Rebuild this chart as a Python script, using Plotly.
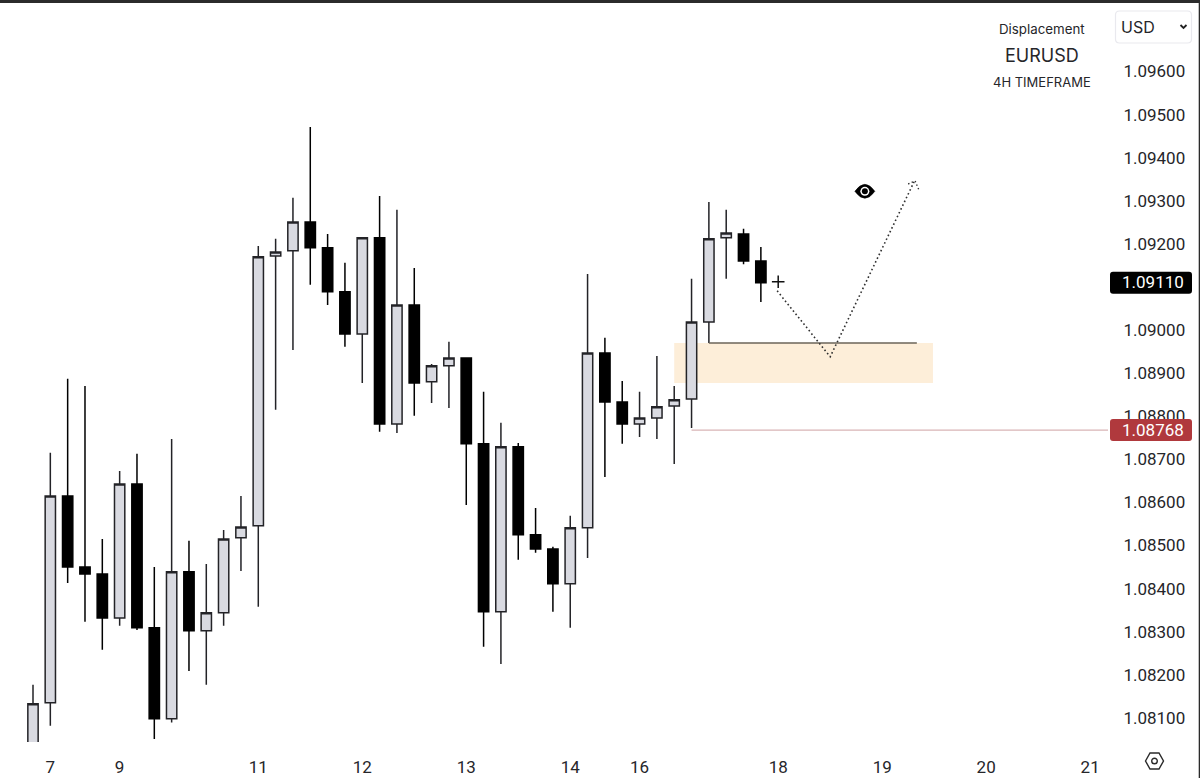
import plotly.graph_objects as go

# 4H EURUSD candles
opens = [1.07979, 1.08135, 1.08615, 1.08450, 1.08434, 1.08332, 1.08643, 1.08309, 1.08098, 1.08439,
         1.08302, 1.08344, 1.08518, 1.08546, 1.09172, 1.09184, 1.09251, 1.09191, 1.09089, 1.08991,
         1.09214, 1.08782, 1.09058, 1.08880, 1.08917, 1.08935, 1.08736, 1.08346, 1.08729, 1.08525,
         1.08492, 1.08411, 1.08541, 1.08947, 1.08833, 1.08782, 1.08796, 1.08824, 1.08840, 1.09019,
         1.09214, 1.09223, 1.09160]
highs = [1.08177, 1.08715, 1.08887, 1.08870, 1.08515, 1.08673, 1.08713, 1.08450, 1.08747, 1.08511,
         1.08457, 1.08536, 1.08615, 1.09195, 1.09212, 1.09307, 1.09471, 1.09223, 1.09156, 1.09216,
         1.09311, 1.09279, 1.09144, 1.08921, 1.08973, 1.08935, 1.08857, 1.08785, 1.08738, 1.08587,
         1.08497, 1.08569, 1.09130, 1.08982, 1.08882, 1.08857, 1.08940, 1.08870, 1.09119, 1.09297,
         1.09279, 1.09235, 1.09193]
lows = [1.07945, 1.08082, 1.08413, 1.08323, 1.08258, 1.08314, 1.08304, 1.08051, 1.08089, 1.08209,
        1.08177, 1.08314, 1.08441, 1.08358, 1.08815, 1.08954, 1.09105, 1.09058, 1.08961, 1.08877,
        1.08764, 1.08761, 1.08801, 1.08831, 1.08819, 1.08594, 1.08265, 1.08225, 1.08467, 1.08483,
        1.08346, 1.08309, 1.08471, 1.08659, 1.08736, 1.08752, 1.08747, 1.08689, 1.08773, 1.08970,
        1.09119, 1.09153, 1.09065]
closes = [1.08133, 1.08615, 1.08450, 1.08434, 1.08332, 1.08643, 1.08309, 1.08098, 1.08439, 1.08302,
          1.08344, 1.08515, 1.08543, 1.09170, 1.09181, 1.09251, 1.09191, 1.09089, 1.08991, 1.09214,
          1.08782, 1.09058, 1.08877, 1.08917, 1.08935, 1.08736, 1.08346, 1.08729, 1.08525, 1.08492,
          1.08411, 1.08541, 1.08947, 1.08833, 1.08782, 1.08796, 1.08822, 1.08838, 1.09019, 1.09212,
          1.09225, 1.09160, 1.09110]
bars = list(range(len(opens)))

day_ticks = [1, 5, 13, 19, 25, 31, 35, 43, 49, 55, 61]
day_labels = ["7", "9", "11", "12", "13", "14", "16", "18", "19", "20", "21"]
price_ticks = [1.081, 1.082, 1.083, 1.084, 1.085, 1.086, 1.087, 1.088, 1.089, 1.090,
               1.092, 1.093, 1.094, 1.095, 1.096]

zone_x = [37, 51.93]
zone_y = [1.08877, 1.08970]
zone_line_x = [39, 51]
zone_line_y = [1.08970, 1.08970]
stop_x = [38, 62.1]
stop_y = [1.08768, 1.08768]
path_x = [42.94, 46.0, 50.84]
path_y = [1.09091, 1.08938, 1.09344]
head_x = [50.5, 50.9, 51.12]
head_y = [1.09339, 1.09346, 1.09325]
cross_x = [43]
cross_y = [1.09112]
last_price = 1.09110
stop_price = 1.08768
eye_x = 48.0
eye_y = 1.09322

W = 1108
H = 742
FONT = "Inter"
AXIS_FONT = "Roboto"
INK = "#26262a"


def px(x):
    return x / W


def py(y):
    return 1 - y / H


def tag(price, color):
    # rounded price label on the right scale
    return dict(type="path", xref="paper", yref="y", layer="above",
                xsizemode="pixel", ysizemode="pixel", xanchor=px(1151), yanchor=price,
                path="M-38,-11 H38 Q41,-11 41,-8 V8 Q41,11 38,11 H-38 Q-41,11 -41,8 V-8 Q-41,-11 -38,-11 Z",
                fillcolor=color, line=dict(width=0))


fig = go.Figure()

fig.add_trace(go.Candlestick(
    x=bars, open=opens, high=highs, low=lows, close=closes,
    increasing=dict(fillcolor="#d9dae1", line=dict(color="#232327", width=1.5)),
    decreasing=dict(fillcolor="#000000", line=dict(color="#000000", width=1.5)),
    whiskerwidth=0, hoverinfo="skip", showlegend=False))

fig.add_trace(go.Scatter(x=zone_line_x, y=zone_line_y, mode="lines",
                         line=dict(color="#6b6459", width=1.5), showlegend=False, hoverinfo="skip"))
fig.add_trace(go.Scatter(x=stop_x, y=stop_y, mode="lines",
                         line=dict(color="#d9b4b6", width=1.2), showlegend=False, hoverinfo="skip"))
fig.add_trace(go.Scatter(x=path_x, y=path_y, mode="lines",
                         line=dict(color="#303030", width=1.6, dash="1.6px,2.6px"),
                         showlegend=False, hoverinfo="skip"))
fig.add_trace(go.Scatter(x=head_x, y=head_y, mode="lines",
                         line=dict(color="#303030", width=1.4, dash="1.4px,2.4px"),
                         showlegend=False, hoverinfo="skip"))
fig.add_trace(go.Scatter(x=cross_x, y=cross_y, mode="markers",
                         marker=dict(symbol="cross-thin", size=9, line=dict(color="#111111", width=1.5)),
                         showlegend=False, hoverinfo="skip"))

shapes = [
    dict(type="rect", xref="x", yref="y", layer="below", x0=zone_x[0], x1=zone_x[1],
         y0=zone_y[0], y1=zone_y[1], fillcolor="#fdeed9", line=dict(width=0)),
    tag(last_price, "#000000"),
    tag(stop_price, "#b0393d"),
    # window edge
    dict(type="rect", xref="paper", yref="paper", x0=0, x1=px(1200), y0=py(3), y1=py(0),
         fillcolor="#2b2b2b", line=dict(width=0)),
    dict(type="rect", xref="paper", yref="paper", x0=px(1198.7), x1=px(1200), y0=py(778), y1=py(0),
         fillcolor="#2b2b2b", line=dict(width=0)),
    # USD selector
    dict(type="path", xref="paper", yref="paper", xsizemode="pixel", ysizemode="pixel",
         xanchor=px(1153.5), yanchor=py(27),
         path="M-34,-16 H34 Q38,-16 38,-12 V12 Q38,16 34,16 H-34 Q-38,16 -38,12 V-12 Q-38,-16 -34,-16 Z",
         fillcolor="#ffffff", line=dict(color="#e9e9ee", width=1.2)),
    dict(type="path", xref="paper", yref="paper", xsizemode="pixel", ysizemode="pixel",
         xanchor=px(1183.5), yanchor=py(26.5), path="M-3,1.5 L0,-1.5 L3,1.5",
         line=dict(color="#222222", width=1.8)),
    # settings hexagon
    dict(type="path", xref="paper", yref="paper", xsizemode="pixel", ysizemode="pixel",
         xanchor=px(1154.5), yanchor=py(761), path="M-9,0 L-4.5,8 H4.5 L9,0 L4.5,-8 H-4.5 Z",
         line=dict(color="#2a2a2a", width=1.4)),
    dict(type="circle", xref="paper", yref="paper", xsizemode="pixel", ysizemode="pixel",
         xanchor=px(1154.5), yanchor=py(761), x0=-2.8, x1=2.8, y0=-2.8, y1=2.8,
         line=dict(color="#2a2a2a", width=1.4)),
    # eye
    dict(type="path", xref="x", yref="y", xsizemode="pixel", ysizemode="pixel",
         xanchor=eye_x, yanchor=eye_y, path="M-10,0 Q0,-14 10,0 Q0,14 -10,0 Z",
         fillcolor="#000000", line=dict(color="#000000", width=0.5)),
    dict(type="circle", xref="x", yref="y", xsizemode="pixel", ysizemode="pixel",
         xanchor=eye_x, yanchor=eye_y, x0=-4.5, x1=4.5, y0=-4.5, y1=4.5,
         fillcolor="#ffffff", line=dict(width=0)),
    dict(type="circle", xref="x", yref="y", xsizemode="pixel", ysizemode="pixel",
         xanchor=eye_x, yanchor=eye_y, x0=-3, x1=3, y0=-3, y1=3,
         fillcolor="#000000", line=dict(width=0)),
]


def label(text, x, y, size, color=INK, xanchor="center", family=FONT):
    return dict(text=text, xref="paper", yref="paper", x=px(x), y=py(y), xanchor=xanchor, yanchor="middle",
                showarrow=False, font=dict(family=family, size=size, color=color))


annotations = [
    label("Displacement", 1042, 28.5, 13.3),
    label("EURUSD", 1042, 55.5, 18),
    label("4H TIMEFRAME", 1042, 81.5, 13),
    label("USD", 1119, 27, 16, xanchor="left"),
    label("1.09110", 1186, 282, 17, color="#ffffff", xanchor="right", family=AXIS_FONT),
    label("1.08768", 1186, 430, 17, color="#ffffff", xanchor="right", family=AXIS_FONT),
]

fig.update_layout(
    width=1200, height=778,
    margin=dict(l=0, r=92, t=0, b=36),
    paper_bgcolor="#ffffff", plot_bgcolor="#ffffff",
    boxgap=0.15,
    shapes=shapes, annotations=annotations,
    xaxis=dict(range=[-1.904, 62.03], tickmode="array", tickvals=day_ticks, ticktext=day_labels,
               showgrid=False, zeroline=False, showline=False, rangeslider=dict(visible=False),
               ticks="outside", ticklen=10, tickcolor="#ffffff",
               tickfont=dict(family=AXIS_FONT, size=17, color=INK)),
    yaxis=dict(range=[1.08044, 1.09766], side="right", tickmode="array", tickvals=price_ticks,
               tickformat=".5f", showgrid=False, zeroline=False, showline=False,
               ticks="outside", ticklen=11, tickcolor="#ffffff",
               tickfont=dict(family=AXIS_FONT, size=17, color=INK)),
)

fig.write_html("out.html", config=dict(displayModeBar=False),
               post_script="document.body.style.margin='0';")
